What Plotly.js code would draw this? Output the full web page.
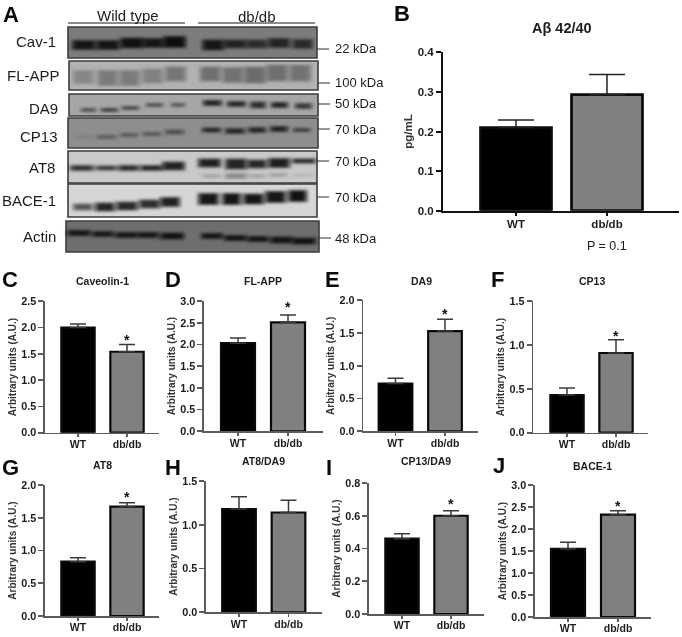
<!DOCTYPE html>
<html>
<head>
<meta charset="utf-8">
<script src="https://cdn.plot.ly/plotly-3.0.1.min.js"></script>
<style>
html,body{margin:0;padding:0;background:#fff}
#chart{width:682px;height:637px;filter:blur(0.35px)}
#chart .subplot.x20y20 .scatterlayer{filter:blur(1.4px)}
</style>
</head>
<body>
<div id="chart"></div>
<script>
// ---------- values ----------
var categories = ['WT', 'db/db'];
var titleB = 'A\u03B2 42/40', meansB = [0.21, 0.293], errB = [0.019, 0.051];
var titleC = 'Caveolin-1', meansC = [2.0, 1.54], errC = [0.07, 0.14], starC = 1.79;
var titleD = 'FL-APP', meansD = [2.03, 2.51], errD = [0.12, 0.17], starD = 2.88;
var titleE = 'DA9', meansE = [0.73, 1.53], errE = [0.08, 0.18], starE = 1.81;
var titleF = 'CP13', meansF = [0.43, 0.91], errF = [0.08, 0.15], starF = 1.12;
var titleG = 'AT8', meansG = [0.83, 1.67], errG = [0.06, 0.06], starG = 1.83;
var titleH = 'AT8/DA9', meansH = [1.18, 1.14], errH = [0.14, 0.14], starH = null;
var titleI = 'CP13/DA9', meansI = [0.46, 0.60], errI = [0.03, 0.03], starI = 0.676;
var titleJ = 'BACE-1', meansJ = [1.55, 2.33], errJ = [0.15, 0.09], starJ = 2.55;

var blotNames = ['Cav-1', 'FL-APP', 'DA9', 'CP13', 'AT8', 'BACE-1', 'Actin'];
var blotSizes = ['22 kDa', '100 kDa', '50 kDa', '70 kDa', '70 kDa', '70 kDa', '48 kDa'];
var blotTicks = [49, 83, 104, 129, 161, 197, 238];
var blotLabelY = [42, 75, 108, 137, 168, 201, 236];
var blotBox = [[68,27,317,58],[69,61,318,90],[69,94,318,116],[68,118,318,148],[68,151,317,183],[68,184,317,217],[66,221,319,252]];
var blotBack = ['#7c7c7c','#b2b2b2','#a6a6a6','#8e8e8e','#c9c9c9','#d6d6d6','#6e6e6e'];
// one band per row: left, right, height in the picture, thickness, grey
var bandsCav = [[72,96,45,9,'#141414'],[96,120,45,9,'#141414'],[120,144,43,10,'#101010'],[142,164,43,9,'#141414'],[163,186,42,11,'#0c0c0c'],[202,224,45,10,'#141414'],[223,247,44,8,'#222222'],[246,268,44,8,'#2a2a2a'],[268,290,43,9,'#222222'],[292,313,44,9,'#2a2a2a']];
var bandsApp = [[73,94,77,13,'#868686'],[97,118,78,15,'#7a7a7a'],[119,140,78,15,'#7a7a7a'],[142,163,76,14,'#808080'],[165,186,74,14,'#747474'],[200,221,74,14,'#6e6e6e'],[222,244,75,15,'#727272'],[244,266,75,16,'#6a6a6a'],[266,288,73,16,'#6e6e6e'],[289,311,73,16,'#727272']];
var bandsDa9 = [[81,96,110,3,'#444444'],[101,118,110,3,'#303030'],[122,139,108,3,'#3a3a3a'],[146,163,105,3,'#444444'],[171,185,105,3,'#4a4a4a'],[203,222,103,5,'#1e1e1e'],[227,246,104,5,'#222222'],[250,266,105,6,'#2a2a2a'],[271,288,105,5,'#1c1c1c'],[295,312,106,5,'#333333']];
var bandsCp13 = [[75,93,137,2,'#7a7a7a'],[97,116,137,3,'#545454'],[120,138,135,3,'#505050'],[143,161,134,3,'#4c4c4c'],[165,184,132,4,'#484848'],[202,221,130,4,'#1e1e1e'],[225,245,131,5,'#222222'],[248,266,130,5,'#222222'],[270,288,129,5,'#1c1c1c'],[293,310,130,3,'#303030']];
var bandsAt8 = [[70,94,168,5,'#2c2c2c'],[96,117,168,4,'#2c2c2c'],[118,139,168,5,'#262626'],[140,163,168,5,'#222222'],[162,185,166,8,'#202020'],[198,221,163,8,'#1c1c1c'],[225,247,164,10,'#222222'],[247,267,164,8,'#242424'],[268,290,163,9,'#1c1c1c'],[292,316,161,4,'#1e1e1e'],[202,221,176,3,'#a0a0a0'],[225,247,176,5,'#888888'],[249,265,176,3,'#9c9c9c'],[269,287,175,3,'#9c9c9c'],[293,313,175,2,'#b0b0b0']];
var bandsBace = [[73,93,207,6,'#505050'],[95,115,207,8,'#222222'],[116,138,206,8,'#262626'],[139,160,204,8,'#2a2a2a'],[160,180,202,9,'#1e1e1e'],[198,219,199,11,'#141414'],[222,241,199,11,'#121212'],[243,264,199,10,'#141414'],[265,286,197,11,'#141414'],[288,307,196,11,'#0e0e0e']];
var bandsActin = [[67,91,233,5,'#121212'],[92,114,234,5,'#141414'],[115,138,235,5,'#121212'],[137,159,235,5,'#121212'],[160,184,236,6,'#101010'],[201,223,236,5,'#101010'],[224,247,238,5,'#101010'],[247,269,239,5,'#101010'],[270,293,240,6,'#101010'],[292,316,241,6,'#101010']];
var blotBands = [bandsCav, bandsApp, bandsDa9, bandsCp13, bandsAt8, bandsBace, bandsActin];
var groupNames = ['Wild type', 'db/db'];

// ---------- page placement (pixels of the 682x637 page) ----------
var W = 682, H = 637;
var FONT = '"Liberation Sans", Arial, sans-serif';
var panels = [
 {t:titleB,m:meansB,e:errB,star:null,max:0.4,d:0.1,left:443,right:679,top:52.3,bot:210.7,c0:516,c1:607,bw:0.78,tx:562,ty:28,ts:14.5,unit:'pg/mL',stand:3,big:true},
 {t:titleC,m:meansC,e:errC,star:starC,max:2.5,d:0.5,left:45,right:159,top:301.3,bot:432.7,c0:78,c1:127,bw:0.68,tx:102,ty:281},
 {t:titleD,m:meansD,e:errD,star:starD,max:3,d:0.5,left:204,right:323,top:301,bot:431.3,c0:238,c1:288,bw:0.68,tx:263,ty:281},
 {t:titleE,m:meansE,e:errE,star:starE,max:2,d:0.5,left:363.3,right:478,top:300.3,bot:431.3,c0:395.5,c1:445,bw:0.68,tx:421,ty:281},
 {t:titleF,m:meansF,e:errF,star:starF,max:1.5,d:0.5,left:533.3,right:648,top:301.3,bot:432.7,c0:567,c1:616,bw:0.68,tx:592,ty:281},
 {t:titleG,m:meansG,e:errG,star:starG,max:2,d:0.5,left:45,right:159,top:485,bot:616,c0:78,c1:127,bw:0.68,tx:102,ty:465},
 {t:titleH,m:meansH,e:errH,star:starH,max:1.5,d:0.5,left:206,right:321.7,top:481,bot:612.3,c0:239,c1:288.5,bw:0.68,tx:263,ty:461},
 {t:titleI,m:meansI,e:errI,star:starI,max:0.8,d:0.2,left:369,right:484,top:483,bot:614,c0:402,c1:451,bw:0.68,tx:426,ty:461},
 {t:titleJ,m:meansJ,e:errJ,star:starJ,max:3,d:0.5,left:535,right:651,top:485.3,bot:617,c0:568,c1:618,bw:0.68,tx:592,ty:466}
];
var panelLetters = [['A',1,14],['B',392,13],['C',0,279],['D',163,279],['E',323,279],['F',489,279],['G',0,467],['H',163,467],['I',324,467],['J',491,465]];

var traces = [], shapes = [], annotations = [];
var layout = {
  width: W, height: H, margin: {l:0,r:0,t:0,b:0,pad:0},
  paper_bgcolor: '#fff', plot_bgcolor: 'rgba(0,0,0,0)', showlegend: false, hovermode: false,
  font: {family: FONT, color: '#222'}
};
function paperNote(text, px, py, size, bold, xanchor, color, angle) {
  annotations.push({xref:'paper', yref:'paper', x:px/W, y:1-py/H, xanchor:xanchor||'center', yanchor:'middle',
    text: bold ? '<b>'+text+'</b>' : text, showarrow:false, textangle:angle||0,
    font:{family:FONT, size:size, color:color||'#1c1c1c'}});
}

// ---------- bar panels ----------
panels.forEach(function (p, i) {
  var n = i + 1, xa = n === 1 ? 'x' : 'x' + n, ya = n === 1 ? 'y' : 'y' + n;
  var xk = n === 1 ? 'xaxis' : 'xaxis' + n, yk = n === 1 ? 'yaxis' : 'yaxis' + n;
  var s = p.c1 - p.c0;
  var axisColor = p.big ? '#111' : '#5c5c5c', lw = p.big ? 2 : 1.6;
  var sz = p.big ? 11.5 : 10.5;
  traces.push({type:'bar', x:categories, y:p.m, xaxis:xa, yaxis:ya, width:p.bw,
    marker:{color:['#000000','#808080'], line:{color:'#0a0a0a', width:p.big?2.7:2.2}},
    error_y:{type:'data', symmetric:false, array:p.e, arrayminus:[0,0], color:p.big?'#222':'#3a3a3a', thickness:1.5, width:p.big?18:8}});
  layout[xk] = {domain:[p.left/W, p.right/W], anchor:ya, type:'category', categoryorder:'array', categoryarray:categories,
    range:[(p.left-p.c0)/s, (p.right-p.c0)/s], showgrid:false, zeroline:false, showline:true, linecolor:axisColor, linewidth:lw,
    ticks:'outside', ticklen:3, tickwidth:lw, tickcolor:axisColor, ticklabelstandoff:-2, tickfont:{family:FONT,size:sz,weight:700,color:'#1c1c1c'}, fixedrange:true};
  layout[yk] = {domain:[1-p.bot/H, 1-p.top/H], anchor:xa, range:[0,p.max], dtick:p.d, tick0:0, tickformat:'.1f',
    showgrid:false, zeroline:false, showline:true, linecolor:axisColor, linewidth:lw,
    ticks:'outside', ticklen:5, tickwidth:lw, tickcolor:axisColor, tickfont:{family:FONT,size:p.big?11.5:10.8,weight:700,color:'#1c1c1c'}, fixedrange:true,
    title:{text:'<b>'+(p.unit||'Arbitrary units (A.U.)')+'</b>', standoff:p.stand||3, font:{family:FONT,size:p.big?11.5:10,color:'#333'}}};
  paperNote(p.t, p.tx, p.ty, p.ts||10.5, true);
  if (p.star !== null) {
    annotations.push({xref:xa, yref:ya, x:'db/db', y:p.star, yshift:-1, text:'<b>*</b>', showarrow:false,
      xanchor:'center', yanchor:'middle', font:{family:FONT,size:14,color:'#111'}});
  }
});
paperNote('P = 0.1', 607, 246, 12.5, false);

// ---------- western blots (panel A), on their own hidden pixel-like axes ----------
var bxa = 'x20', bya = 'y20';
layout.xaxis20 = {domain:[0, 380/W], range:[0,380], visible:false, anchor:bya, fixedrange:true};
layout.yaxis20 = {domain:[1-262/H, 1], range:[262,0], visible:false, anchor:bxa, fixedrange:true};
function seg(x0, x1, y, width, color, op) {
  traces.push({type:'scatter', mode:'lines', x:[x0,x1], y:[y,y], xaxis:bxa, yaxis:bya, opacity:op,
    line:{color:color, width:width}, cliponaxis:false});
}
blotNames.forEach(function (name, i) {
  var b = blotBox[i];
  shapes.push({type:'rect', xref:bxa, yref:bya, x0:b[0], y0:b[1], x1:b[2], y1:b[3], layer:'below',
    fillcolor:blotBack[i], line:{color:'#3c3c3c', width:1.6}});
  shapes.push({type:'line', xref:bxa, yref:bya, x0:b[2], x1:b[2]+12, y0:blotTicks[i], y1:blotTicks[i], line:{color:'#333', width:1}});
  blotBands[i].forEach(function (r) {
    seg(r[0]-1, r[1]+1, r[2], r[3]+1, r[4], 0.55);
    seg(r[0]+2, r[1]-2, r[2], r[3], r[4], 0.7);
    seg(r[0]+4, r[1]-4, r[2], Math.max(r[3]-1,1.5), r[4], 0.9);
  });
  paperNote(name, name === 'FL-APP' ? 62 : (name === 'DA9' || name === 'CP13' ? 60 : (name === 'AT8' ? 57 : 58)), blotLabelY[i], 15, false, 'right');
  paperNote(blotSizes[i], 333, blotTicks[i], 13, false, 'left');
});
shapes.push({type:'line', xref:bxa, yref:bya, x0:68, x1:185, y0:23, y1:23, line:{color:'#666', width:1.5}});
shapes.push({type:'line', xref:bxa, yref:bya, x0:198, x1:315, y0:23, y1:23, line:{color:'#666', width:1.5}});
paperNote(groupNames[0], 128, 15, 15, false);
paperNote(groupNames[1], 257, 17, 15, false);

panelLetters.forEach(function (l) { paperNote(l[0], l[1], l[2], 22, true, 'left', '#0a0a0a'); });

layout.shapes = shapes;
layout.annotations = annotations;
Plotly.newPlot('chart', traces, layout, {displayModeBar:false, staticPlot:true});
</script>
</body>
</html>
